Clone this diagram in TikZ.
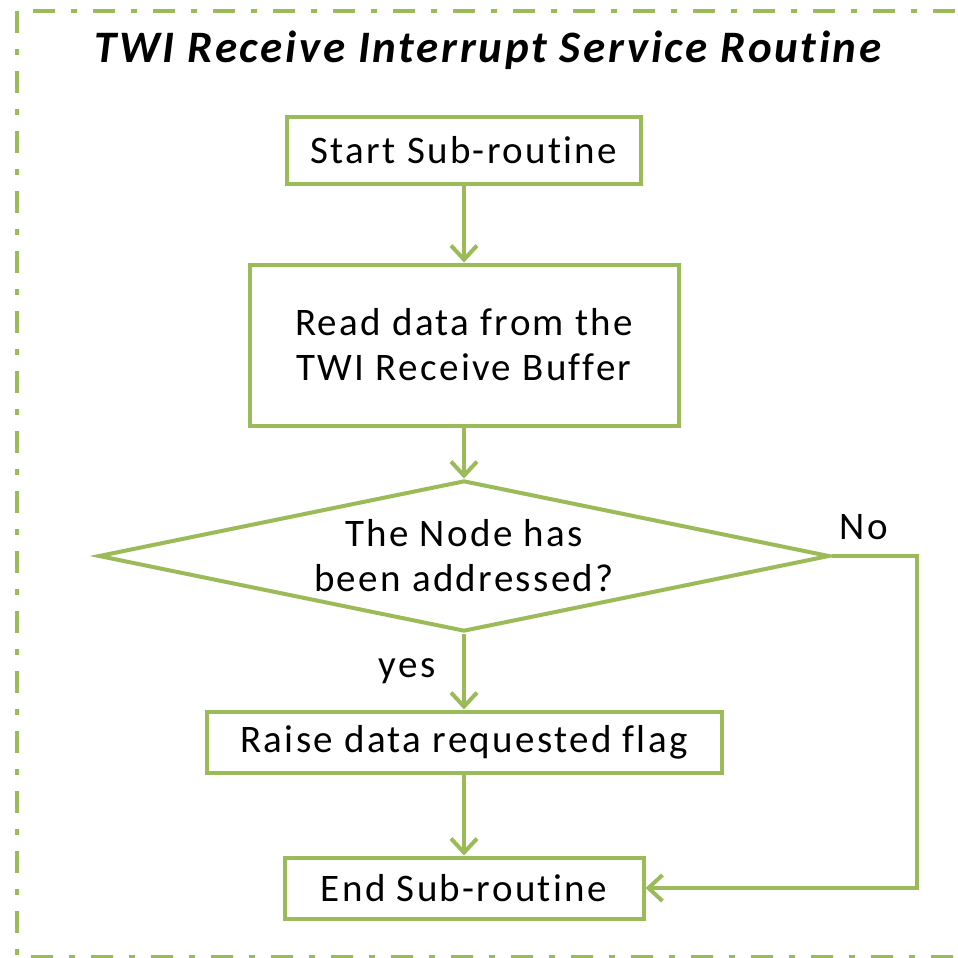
\documentclass[tikz,border=0pt]{standalone}
\usepackage{fontspec}
\setmainfont{Carlito}[LetterSpace=6, Ligatures={NoCommon}]
\usetikzlibrary{positioning}
\usetikzlibrary{arrows.meta}
\usetikzlibrary{shapes.geometric}
\definecolor{olive}{HTML}{9BBB59}

\begin{document}
\begin{tikzpicture}[
            x = 0.5pt, y = -0.5pt, % one unit is one pixel
            > = {Straight Barb[length=7pt, width=13pt]}, % open arrow head
            line width = 2pt,
            draw = olive
        ]

        \tikzstyle{box}=[
            draw = olive,
            line width = 2pt,
            fill = white,
            align = center,
            inner sep = 0pt,
            font = \fontsize{19.5}{22.5}\selectfont
        ]
        \tikzstyle{decision}=[
            box,
            diamond,
            shape aspect = 5,
            minimum width = 365.5pt,
            minimum height = 75.5pt
        ]
        \tikzstyle{flow}=[draw = olive, line width = 2pt, ->]

        % frame and page
        \useasboundingbox (0,0) rectangle (958,958);
        \clip (0,0) rectangle (958,958);
        \draw[olive, line width = 2pt,
              dash pattern = on 11pt off 8pt on 3pt off 8pt]
            (17,11) rectangle (980,957);

        % title
        \node[font = \fontsize{22.5}{25}\selectfont\bfseries\itshape] (T) at (488,50)
            {TWI Receive Interrupt Service Routine};

        % steps
        \node[box, minimum width = 177pt, minimum height = 33.5pt] (S) at (464,150)
            {Start Sub-routine};
        \node[box, minimum width = 214.5pt, minimum height = 80.5pt] (R)
            [below of = S, node distance = 97.5pt]
            {Read data from the\\TWI Receive Buffer};
        \node[decision] (C) [below of = R, node distance = 105.5pt]
            {The Node has\\been addressed?};
        \node[box, minimum width = 257.5pt, minimum height = 30.5pt] (F)
            [below of = C, node distance = 93pt]
            {Raise data requested flag};
        \node[box, minimum width = 179.5pt, minimum height = 30.5pt] (E)
            [below of = F, node distance = 73pt]
            {End Sub-routine};

        \path[flow] (S) -- (R);
        \path[flow] (R) -- (C);
        \path[flow] (C) -- node[left, text = black, xshift = -10pt,
            font = \fontsize{19.5}{22.5}\selectfont] {yes} (F);
        \path[flow] (F) -- (E);

        % no branch
        \path[flow] (C.east) -- node[above, pos = 0.38, text = black, yshift = 4pt,
            font = \fontsize{19.5}{22.5}\selectfont] {No} +(85,0) |- (E.east);

  \end{tikzpicture}
\end{document}
